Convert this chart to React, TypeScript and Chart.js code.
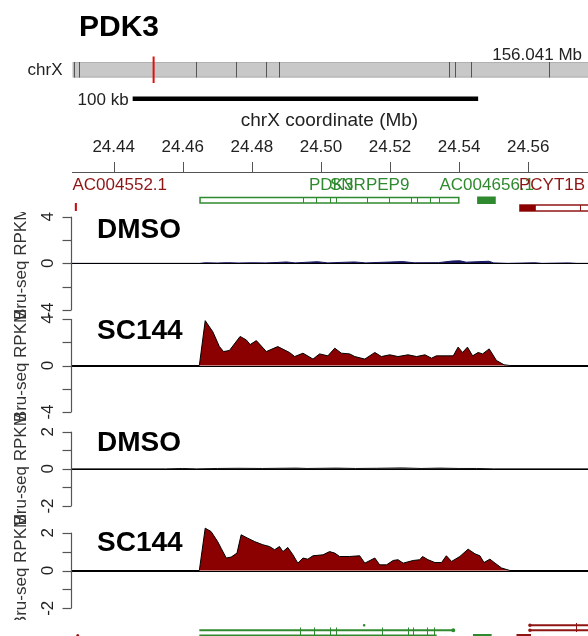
import React, { useEffect, useRef } from 'react';
import { Chart, registerables } from 'chart.js';

Chart.register(...registerables);

// ---------------- data ----------------
const X_MIN = 24.42794;
const X_MAX = 24.5773;

const xTicks = [24.44, 24.46, 24.48, 24.5, 24.52, 24.54, 24.56];
const xTickLabels = ['24.44', '24.46', '24.48', '24.50', '24.52', '24.54', '24.56'];

const trackNames = ['DMSO', 'SC144', 'DMSO', 'SC144'];
const trackTickValues = [
  [4, 2, 0, -2, -4],
  [4, 2, 0, -2, -4],
  [2, 1, 0, -1, -2],
  [2, 1, 0, -1, -2],
];
const trackTickLabels = [
  ['4', '0', '-4'],
  ['4', '0', '-4'],
  ['2', '0', '-2'],
  ['2', '0', '-2'],
];
const trackLabelValues = [
  [4, 0, -4],
  [4, 0, -4],
  [2, 0, -2],
  [2, 0, -2],
];

// Track 1: DMSO (Bru-seq RPKM, navy)
const dmso1Pos = [24.4279, 24.4648, 24.4665, 24.47, 24.473, 24.476, 24.48, 24.484, 24.487, 24.49, 24.4925, 24.499, 24.502, 24.5097, 24.513, 24.5236, 24.527, 24.534, 24.538, 24.5402, 24.542, 24.5486, 24.55, 24.554, 24.5619, 24.564, 24.5717, 24.574, 24.5773];
const dmso1Val = [0, 0, 0.05, 0.03, 0.06, 0.03, 0.05, 0.04, 0.07, 0.12, 0.04, 0.14, 0.04, 0.12, 0.04, 0.15, 0.05, 0.06, 0.2, 0.22, 0.1, 0.18, 0.04, 0, 0.05, 0, 0.04, 0, 0];

// Track 2: SC144
const sc1Pos = [24.4279, 24.4648, 24.4665, 24.4687, 24.4706, 24.4718, 24.4735, 24.4766, 24.4784, 24.4795, 24.4813, 24.4842, 24.4875, 24.4909, 24.4924, 24.4948, 24.4977, 24.4996, 24.502, 24.504, 24.5059, 24.5083, 24.5098, 24.5127, 24.5156, 24.5175, 24.5199, 24.5223, 24.5252, 24.5277, 24.5301, 24.532, 24.5334, 24.5383, 24.5397, 24.541, 24.5424, 24.5439, 24.5455, 24.5468, 24.5487, 24.5508, 24.553, 24.5547, 24.5773];
const sc1Val = [0, 0, 3.86, 2.9, 1.63, 1.2, 1.29, 2.5, 2.2, 1.8, 2.14, 1.2, 1.63, 1.12, 0.77, 1.06, 0.55, 1.0, 0.83, 1.49, 1.06, 1.0, 0.77, 0.55, 1.12, 0.77, 0.92, 0.77, 0.92, 0.77, 0.92, 0.63, 0.83, 0.83, 1.58, 1.12, 1.58, 0.83, 1.12, 1.0, 1.43, 0.43, 0.06, 0, 0];

// Track 3: DMSO (black)
const dmso2Pos = [24.4279, 24.455, 24.46, 24.464, 24.47, 24.476, 24.483, 24.4929, 24.496, 24.5045, 24.51, 24.516, 24.5236, 24.529, 24.5344, 24.54, 24.545, 24.55, 24.5773];
const dmso2Val = [0, 0, 0.02, 0, 0.02, 0.03, 0.02, 0.04, 0.02, 0.04, 0.02, 0.03, 0.05, 0.02, 0.04, 0.02, 0.02, 0, 0];

// Track 4: SC144
const sc2Pos = [24.4279, 24.4648, 24.4665, 24.4682, 24.4701, 24.4711, 24.4726, 24.474, 24.4757, 24.4769, 24.4788, 24.4808, 24.4832, 24.4851, 24.4866, 24.488, 24.489, 24.4904, 24.4919, 24.4933, 24.4948, 24.4962, 24.4977, 24.5006, 24.5025, 24.504, 24.5054, 24.5083, 24.5112, 24.5127, 24.5156, 24.517, 24.519, 24.5209, 24.5223, 24.5238, 24.5267, 24.5286, 24.5294, 24.531, 24.533, 24.5349, 24.5363, 24.5378, 24.5402, 24.5426, 24.5446, 24.546, 24.5472, 24.5489, 24.5504, 24.5523, 24.5547, 24.5773];
const sc2Val = [0, 0, 2.24, 2.06, 1.53, 1.18, 0.66, 0.71, 0.92, 1.89, 1.71, 1.53, 1.36, 1.27, 1.1, 1.27, 1.0, 1.22, 0.83, 0.39, 0.66, 0.6, 0.78, 0.83, 1.0, 0.92, 0.74, 0.74, 0.78, 0.39, 0.66, 0.3, 0.3, 0.53, 0.57, 0.39, 0.53, 0.57, 0.74, 0.57, 0.42, 0.42, 0.78, 0.48, 0.74, 1.13, 0.88, 0.78, 0.42, 0.6, 0.39, 0.13, 0, 0];

// Gene annotation (Mb)
const geneLabels = ['AC004552.1', 'PDK3', 'SNRPEP9', 'AC004656.1', 'PCYT1B'];
const pdk3Span = [24.465, 24.5399];
const pdk3ExonEdges = [24.4948, 24.4987, 24.5025, 24.5045, 24.5133, 24.5197, 24.5262, 24.5277, 24.5317, 24.5343];
const ac004656Span = [24.5452, 24.5506];
const pcyt1bSpan = [24.5576, 24.6];
const pcyt1bFilledEnd = 24.5622;
const pcyt1bEdge = 24.575;
const ac004552Span = [24.4289, 24.4295];

// transcript models at the bottom
const greenTx1 = [24.4648, 24.5383];
const greenTx1Ticks = [24.494, 24.4979, 24.5025, 24.5043, 24.5178, 24.5252, 24.5267, 24.5306, 24.5327];
const greenTx2 = [24.4648, 24.5335];
const greenDot = 24.5125;
const greenSmall = [24.544, 24.5494];
const redTx = [24.5605, 24.6];
const redTxTick = 24.5738;
const redSmall = [24.5566, 24.5608];
const redDot = 24.4296;

// chromosome ideogram (Mb along chrX)
const chrLength = 156.041;
const ideoBands = [0.39, 2.0, 37.2, 49.4, 58.5, 62.5, 114.0, 115.8, 120.5, 144.2];
const ideoHighlight = 24.5;
const scaleBarStart = 24.4455;
const scaleBarKb = 100;

// ---------------- layout ----------------
const W = 588;
const H = 636;
const AREA_LEFT = 72;
const AREA_TOP = 172;
const AREA_BOTTOM = H;
const trackPx = [
  [216.7, 310],
  [319, 412],
  [431.7, 506],
  [532.7, 608.3],
];
const trackLabelBase = [238.3, 339.3, 450.7, 550.7];

function span(i: number) {
  const [topPx, botPx] = trackPx[i];
  const vals = trackTickValues[i];
  const topVal = vals[0];
  const botVal = vals[vals.length - 1];
  const upp = (topVal - botVal) / (botPx - topPx);
  return {
    min: botVal - (AREA_BOTTOM - botPx) * upp,
    max: topVal + (topPx - AREA_TOP) * upp,
  };
}

const FONT = '"Liberation Sans", Arial, Helvetica, sans-serif';
const GREEN = '#2f8a2f';
const RED = '#8f1515';
const DARKRED = '#8b0000';

const overlay = {
  id: 'overlay',
  afterDatasetsDraw(chart: any) {
    const ctx = chart.ctx as CanvasRenderingContext2D;
    const xs = chart.scales.x;
    const px = (v: number) => xs.getPixelForValue(v);
    ctx.save();

    // title
    ctx.fillStyle = '#000';
    ctx.font = `bold 30px ${FONT}`;
    ctx.textAlign = 'left';
    ctx.textBaseline = 'alphabetic';
    ctx.fillText('PDK3', 79, 36);

    // ideogram
    const ideoL = AREA_LEFT + 0.7;
    const ideoR = W;
    const ip = (mb: number) => ideoL + (mb / chrLength) * (ideoR - ideoL);
    ctx.fillStyle = '#c8c8c8';
    ctx.fillRect(ideoL, 62, ideoR - ideoL, 15.5);
    ctx.strokeStyle = '#b0b0b0';
    ctx.lineWidth = 1;
    ctx.strokeRect(ideoL + 0.5, 62.5, ideoR - ideoL, 14.5);
    ctx.strokeStyle = '#555';
    for (const b of ideoBands) {
      const x = Math.round(ip(b)) + 0.5;
      ctx.beginPath();
      ctx.moveTo(x, 62);
      ctx.lineTo(x, 77.5);
      ctx.stroke();
    }
    ctx.strokeStyle = '#e01010';
    ctx.lineWidth = 2;
    ctx.beginPath();
    ctx.moveTo(ip(ideoHighlight), 56.5);
    ctx.lineTo(ip(ideoHighlight), 83);
    ctx.stroke();

    ctx.fillStyle = '#222';
    ctx.font = `17px ${FONT}`;
    ctx.textAlign = 'right';
    ctx.textBaseline = 'middle';
    ctx.fillText('chrX', 62.5, 70.5);
    ctx.fillText(`${chrLength.toFixed(3)} Mb`, 582, 55);

    // scale bar
    ctx.fillStyle = '#000';
    const sb0 = px(scaleBarStart);
    const sb1 = px(scaleBarStart + scaleBarKb / 1000);
    ctx.fillRect(sb0, 96.5, sb1 - sb0, 4.5);
    ctx.fillStyle = '#222';
    ctx.textAlign = 'right';
    ctx.fillText(`${scaleBarKb} kb`, sb0 - 4, 100);

    // x axis at top
    ctx.textAlign = 'center';
    ctx.font = `19px ${FONT}`;
    ctx.fillText('chrX coordinate (Mb)', 329.5, 121);
    ctx.font = `17px ${FONT}`;
    ctx.strokeStyle = '#555';
    ctx.lineWidth = 1;
    ctx.beginPath();
    ctx.moveTo(AREA_LEFT, 172.5);
    ctx.lineTo(W, 172.5);
    ctx.stroke();
    xTicks.forEach((t, i) => {
      const x = Math.round(px(t)) + 0.5;
      ctx.beginPath();
      ctx.moveTo(x, 162);
      ctx.lineTo(x, 172.5);
      ctx.stroke();
      ctx.fillText(xTickLabels[i], px(t), 147.5);
    });

    // gene region (top annotation)
    ctx.font = `17px ${FONT}`;
    ctx.textBaseline = 'middle';
    ctx.textAlign = 'left';
    ctx.fillStyle = RED;
    ctx.fillText(geneLabels[0], 72.5, 185.5);
    ctx.fillStyle = GREEN;
    ctx.fillText(geneLabels[1], 309, 185.5);
    ctx.fillText(geneLabels[2], 330, 185.5);
    ctx.fillText(geneLabels[3], 439.5, 185.5);
    ctx.fillStyle = RED;
    ctx.fillText(geneLabels[4], 519, 185.5);

    // PDK3 box
    ctx.strokeStyle = GREEN;
    ctx.lineWidth = 1.5;
    ctx.fillStyle = '#fff';
    const p0 = px(pdk3Span[0]);
    const p1 = px(pdk3Span[1]);
    ctx.fillRect(p0, 197.5, p1 - p0, 5.5);
    ctx.strokeRect(p0, 197.5, p1 - p0, 5.5);
    ctx.lineWidth = 1;
    for (const e of pdk3ExonEdges) {
      const x = Math.round(px(e)) + 0.5;
      ctx.beginPath();
      ctx.moveTo(x, 197.5);
      ctx.lineTo(x, 203);
      ctx.stroke();
    }
    ctx.fillStyle = GREEN;
    ctx.fillRect(px(ac004656Span[0]), 196.5, px(ac004656Span[1]) - px(ac004656Span[0]), 7.5);

    // PCYT1B
    const c0 = px(pcyt1bSpan[0]);
    const c1 = px(pcyt1bSpan[1]);
    ctx.fillStyle = '#fff';
    ctx.fillRect(c0, 205, c1 - c0, 6);
    ctx.strokeStyle = RED;
    ctx.lineWidth = 1.5;
    ctx.strokeRect(c0, 205, c1 - c0, 6);
    ctx.fillStyle = DARKRED;
    ctx.fillRect(c0, 205, px(pcyt1bFilledEnd) - c0, 6);
    ctx.lineWidth = 1;
    ctx.beginPath();
    ctx.moveTo(Math.round(px(pcyt1bEdge)) + 0.5, 205);
    ctx.lineTo(Math.round(px(pcyt1bEdge)) + 0.5, 211);
    ctx.stroke();
    ctx.fillStyle = '#c0101a';
    ctx.fillRect(px(ac004552Span[0]) - 0.5, 203, Math.max(2, px(ac004552Span[1]) - px(ac004552Span[0])), 8);

    // tracks
    const yIds = ['y1', 'y2', 'y3', 'y4'];
    yIds.forEach((id, i) => {
      const ys = chart.scales[id];
      const vals = trackTickValues[i];
      const yTop = ys.getPixelForValue(vals[0]);
      const yBot = ys.getPixelForValue(vals[vals.length - 1]);
      // zero line
      const y0 = Math.round(ys.getPixelForValue(0)) + 0.5;
      ctx.strokeStyle = '#000';
      ctx.lineWidth = 1.2;
      ctx.beginPath();
      ctx.moveTo(AREA_LEFT, y0);
      ctx.lineTo(W, y0);
      ctx.stroke();
      // y axis
      ctx.strokeStyle = '#555';
      ctx.lineWidth = 1.2;
      ctx.beginPath();
      ctx.moveTo(71.5, yTop);
      ctx.lineTo(71.5, yBot);
      ctx.stroke();
      for (const v of vals) {
        const y = Math.round(ys.getPixelForValue(v)) + 0.5;
        ctx.beginPath();
        ctx.moveTo(62.5, y);
        ctx.lineTo(71.5, y);
        ctx.stroke();
      }
      ctx.fillStyle = '#222';
      ctx.font = `17px ${FONT}`;
      ctx.textAlign = 'center';
      ctx.textBaseline = 'middle';
      trackLabelValues[i].forEach((v, k) => {
        ctx.save();
        ctx.translate(48, ys.getPixelForValue(v));
        ctx.rotate(-Math.PI / 2);
        ctx.fillText(trackTickLabels[i][k], 0, 0);
        ctx.restore();
      });
      // track name
      ctx.fillStyle = '#000';
      ctx.font = `bold 28px ${FONT}`;
      ctx.textAlign = 'left';
      ctx.textBaseline = 'alphabetic';
      ctx.fillText(trackNames[i], 97, trackLabelBase[i]);
    });

    // y titles
    ctx.save();
    ctx.beginPath();
    ctx.rect(0, 212, 40, 408);
    ctx.clip();
    ctx.fillStyle = '#333';
    ctx.font = `17px ${FONT}`;
    ctx.textAlign = 'center';
    ctx.textBaseline = 'middle';
    yIds.forEach((id, i) => {
      const ys = chart.scales[id];
      const vals = trackTickValues[i];
      const c = (ys.getPixelForValue(vals[0]) + ys.getPixelForValue(vals[vals.length - 1])) / 2;
      ctx.save();
      ctx.translate(21.5, c);
      ctx.rotate(-Math.PI / 2);
      ctx.fillText('Bru-seq RPKM', 0, 0);
      ctx.restore();
    });
    ctx.restore();

    // bottom transcript models
    ctx.strokeStyle = GREEN;
    ctx.fillStyle = GREEN;
    ctx.lineWidth = 2;
    ctx.beginPath();
    ctx.moveTo(px(greenTx1[0]), 630.3);
    ctx.lineTo(px(greenTx1[1]), 630.3);
    ctx.moveTo(px(greenTx2[0]), 635.5);
    ctx.lineTo(px(greenTx2[1]), 635.5);
    ctx.stroke();
    ctx.lineWidth = 1;
    for (const t of greenTx1Ticks) {
      const x = Math.round(px(t)) + 0.5;
      ctx.beginPath();
      ctx.moveTo(x, 627.5);
      ctx.lineTo(x, 636);
      ctx.stroke();
    }
    ctx.beginPath();
    ctx.arc(px(greenTx1[1]), 630.3, 2, 0, Math.PI * 2);
    ctx.arc(px(greenDot), 625.3, 1.3, 0, Math.PI * 2);
    ctx.fill();
    ctx.fillRect(px(greenSmall[0]), 634, px(greenSmall[1]) - px(greenSmall[0]), 3);
    ctx.strokeStyle = RED;
    ctx.fillStyle = RED;
    ctx.lineWidth = 2;
    ctx.beginPath();
    ctx.moveTo(px(redTx[0]), 625.3);
    ctx.lineTo(px(redTx[1]), 625.3);
    ctx.moveTo(px(redTx[0]), 630.3);
    ctx.lineTo(px(redTx[1]), 630.3);
    ctx.stroke();
    ctx.lineWidth = 1;
    ctx.beginPath();
    ctx.moveTo(Math.round(px(redTxTick)) + 0.5, 623);
    ctx.lineTo(Math.round(px(redTxTick)) + 0.5, 632);
    ctx.stroke();
    ctx.beginPath();
    ctx.arc(px(redTx[0]), 625.3, 1.8, 0, Math.PI * 2);
    ctx.arc(px(redTx[0]), 630.3, 1.8, 0, Math.PI * 2);
    ctx.fill();
    ctx.fillRect(px(redSmall[0]), 634, px(redSmall[1]) - px(redSmall[0]), 3);
    ctx.beginPath();
    ctx.arc(px(redDot), 635.5, 1.5, 0, Math.PI * 2);
    ctx.fill();

    ctx.restore();
  },
};

function toPts(pos: number[], val: number[]) {
  return pos.map((p, i) => ({ x: p, y: val[i] }));
}

export default function App() {
  const ref = useRef<HTMLCanvasElement | null>(null);
  useEffect(() => {
    if (!ref.current) return;
    const mk = (label: string, pos: number[], val: number[], yId: string, fillC: string, lineC: string) => ({
      label,
      data: toPts(pos, val),
      yAxisID: yId,
      borderColor: lineC,
      backgroundColor: fillC,
      borderWidth: 1,
      pointRadius: 0,
      tension: 0,
      fill: 'origin',
    });
    const chart = new Chart(ref.current, {
      type: 'line',
      data: {
        datasets: [
          mk('DMSO', dmso1Pos, dmso1Val, 'y1', '#15155e', '#15155e'),
          mk('SC144', sc1Pos, sc1Val, 'y2', DARKRED, '#000'),
          mk('DMSO', dmso2Pos, dmso2Val, 'y3', '#111', '#111'),
          mk('SC144', sc2Pos, sc2Val, 'y4', DARKRED, '#000'),
        ],
      },
      options: {
        animation: false,
        responsive: false,
        maintainAspectRatio: false,
        devicePixelRatio: 1,
        layout: { padding: { left: AREA_LEFT, top: AREA_TOP, right: 0, bottom: 0 } },
        plugins: { legend: { display: false }, tooltip: { enabled: false }, title: { display: false } },
        scales: {
          x: { type: 'linear', min: X_MIN, max: X_MAX, display: false },
          y1: { type: 'linear', ...span(0), display: false },
          y2: { type: 'linear', ...span(1), display: false },
          y3: { type: 'linear', ...span(2), display: false },
          y4: { type: 'linear', ...span(3), display: false },
        },
      } as any,
      plugins: [overlay],
    });
    return () => chart.destroy();
  }, []);
  return (
    <div style={{ position: 'absolute', left: 0, top: 0, width: W, height: H, background: '#fff' }}>
      <canvas ref={ref} width={W} height={H} style={{ width: W, height: H, display: 'block' }} />
    </div>
  );
}
